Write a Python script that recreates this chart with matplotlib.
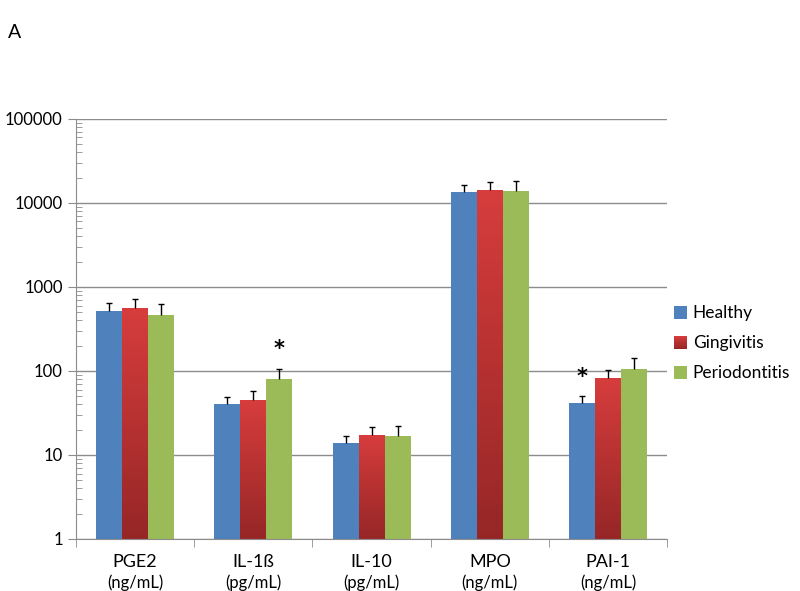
import numpy as np
import matplotlib.pyplot as plt
import matplotlib.colors as mcolors
from matplotlib.patches import Patch, Rectangle
from matplotlib.legend_handler import HandlerBase

plt.rcParams['font.family'] = ['Lato', 'DejaVu Sans']

# Данные
categories = ['PGE2\n(ng/mL)', 'IL-1ß\n(pg/mL)', 'IL-10\n(pg/mL)', 'MPO\n(ng/mL)', 'PAI-1\n(ng/mL)']
series = ['Healthy', 'Gingivitis', 'Periodontitis']
healthy = [520, 40, 13.9, 13500, 41]
gingivitis = [565, 45, 17.3, 14200, 83]
periodontitis = [465, 80, 16.8, 13900, 106]
healthy_err = [125, 9, 2.9, 2900, 9]
gingivitis_err = [155, 12, 4.2, 3300, 20]
periodontitis_err = [160, 26, 5.2, 4500, 36]
stars = [(1, 2), (4, 0)]  # (группа, ряд) со звёздочкой

values = [healthy, gingivitis, periodontitis]
errors = [healthy_err, gingivitis_err, periodontitis_err]
colors = ['#4f81bd', '#c0504d', '#9bbb59']
red_top = np.array(mcolors.to_rgb('#d63c3c'))
red_bot = np.array(mcolors.to_rgb('#962626'))

fig = plt.figure(figsize=(8, 5.91), dpi=100)
ax = fig.add_axes([0.095, 0.088, 0.739, 0.711])
ax.set_yscale('log')
ax.set_ylim(1, 100000)
ax.set_xlim(-0.5, len(categories) - 0.5)

x = np.arange(len(categories))
w = 0.22
offsets = [-w, 0, w]
cap = 0.025

for s in range(3):
    xs = x + offsets[s]
    if s == 1:
        # градиентная заливка красных столбцов полосками
        n = 60
        for xi, v in zip(xs, values[s]):
            edges = np.logspace(0, np.log10(v), n + 1)
            for k in range(n):
                t = k / (n - 1)
                c = red_bot + (red_top - red_bot) * t
                ax.bar(xi, edges[k + 1] - edges[k], bottom=edges[k], width=w,
                       color=c, linewidth=0, zorder=2)
    else:
        ax.bar(xs, values[s], width=w, bottom=0, color=colors[s], linewidth=0, zorder=2)
    # только верхний ус с засечкой
    tops = np.array(values[s]) + np.array(errors[s])
    ax.vlines(xs, values[s], tops, color='black', linewidth=1, zorder=3)
    ax.hlines(tops, xs - cap, xs + cap, color='black', linewidth=1, zorder=3)

for g, s in stars:
    top = values[s][g] + errors[s][g]
    ax.text(x[g] + offsets[s], top * 1.3, '*', ha='center', va='bottom',
            fontsize=15, fontweight='bold', fontfamily='DejaVu Sans')

ax.yaxis.grid(True, which='major', color='#8c8c8c', linewidth=1)
ax.set_axisbelow(True)
for sp in ['top', 'right']:
    ax.spines[sp].set_visible(False)
for sp in ['left', 'bottom']:
    ax.spines[sp].set_color('#8c8c8c')

ax.set_yticks([1, 10, 100, 1000, 10000, 100000])
ax.set_yticklabels(['1', '10', '100', '1000', '10000', '100000'], fontsize=12)
ax.tick_params(axis='y', which='major', length=6, color='#8c8c8c', direction='out')
ax.tick_params(axis='y', which='minor', length=4, color='#8c8c8c', direction='in')
ax.yaxis.set_minor_locator(plt.matplotlib.ticker.LogLocator(base=10, subs=np.arange(2, 10), numticks=20))
ax.yaxis.set_minor_formatter(plt.NullFormatter())

ax.set_xticks(x)
ax.set_xticklabels([])
ax.set_xticks(np.arange(-0.5, len(categories)), minor=True)
ax.tick_params(axis='x', which='major', length=0)
ax.tick_params(axis='x', which='minor', length=6, color='#8c8c8c', direction='out')
for xi, lab in zip(x, categories):
    name, unit = lab.split('\n')
    ax.text(xi, -0.035, name, transform=ax.get_xaxis_transform(), ha='center', va='top', fontsize=13)
    ax.text(xi, -0.085, unit, transform=ax.get_xaxis_transform(), ha='center', va='top', fontsize=12)


class GradHandler(HandlerBase):
    def create_artists(self, legend, orig, xd, yd, width, height, fontsize, trans):
        h = height * 1.1
        out = []
        n = 12
        for k in range(n):
            c = red_bot + (red_top - red_bot) * (1 - k / (n - 1))
            out.append(Rectangle((xd + width - h, yd + height - h + h * (n - 1 - k) / n), h, h / n,
                                 facecolor=c, linewidth=0, transform=trans))
        return out


class SquareHandler(HandlerBase):
    def create_artists(self, legend, orig, xd, yd, width, height, fontsize, trans):
        h = height * 1.1
        return [Rectangle((xd + width - h, yd + height - h), h, h, facecolor=orig.get_facecolor(),
                          linewidth=0, transform=trans)]


handles = [Patch(color=colors[0]), Patch(color=colors[1]), Patch(color=colors[2])]
hmap = {handles[0]: SquareHandler(), handles[1]: GradHandler(), handles[2]: SquareHandler()}
fig.legend(handles, series, handler_map=hmap, loc='center left', bbox_to_anchor=(0.842, 0.42),
           frameon=False, fontsize=12.5, handlelength=0.8, handletextpad=0.3, labelspacing=0.8,
           borderpad=0, borderaxespad=0)

fig.text(0.01, 0.935, 'A', fontsize=14)

fig.savefig('out.png', dpi=100)
